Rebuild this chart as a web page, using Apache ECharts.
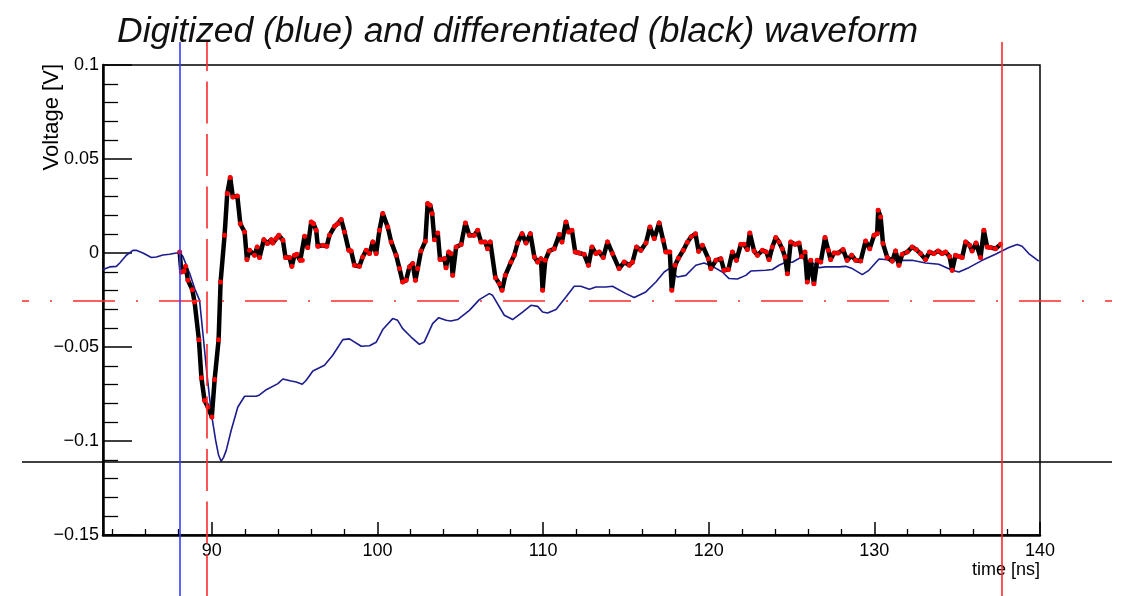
<!DOCTYPE html>
<html>
<head>
<meta charset="utf-8">
<script src="https://cdn.jsdelivr.net/npm/echarts@6/dist/echarts.min.js"></script>
<style>
  html, body { margin: 0; padding: 0; background: #fff; }
  #chart { width: 1121px; height: 596px; }
</style>
</head>
<body>
<div id="chart"></div>
<script>
// Digitized (blue) and differentiated (black) waveform, ROOT-style canvas

// ── data ─────────────────────────────────────────────────────────────
// digitized waveform (blue), time [ns] / voltage [V]
const blueTime = [83.43,83.83,84.24,84.44,84.84,85.24,85.44,85.84,86.35,86.65,
  87.05,87.45,87.86,88.06,88.25,88.66,88.96,89.26,89.46,89.70,
  89.97,90.23,90.41,90.56,90.71,90.87,91.17,91.57,91.98,92.68,
  92.88,93.29,93.99,94.29,94.79,95.10,95.46,95.70,96.10,96.80,
  97.30,97.91,98.31,99.02,99.52,99.92,100.32,100.92,101.22,101.52,
  102.03,102.53,102.83,103.33,103.70,104.14,104.44,104.84,105.55,106.15,
  106.75,106.95,107.66,108.16,108.76,109.27,109.67,109.97,110.27,110.78,
  111.38,111.88,112.28,112.79,113.19,113.79,114.19,115.00,115.50,116.20,
  116.81,117.31,117.61,118.11,118.62,119.22,119.72,120.22,120.82,121.23,
  121.73,122.24,122.54,123.44,123.84,124.24,124.65,125.05,125.55,126.25,
  126.66,127.06,127.86,128.27,128.67,129.27,129.67,130.28,131.28,132.28,
  133.09,133.89,134.70,135.10,135.70,136.51,137.31,138.12,138.62,138.92,
  139.32,139.93];
const blueVolt = [-0.0088,-0.0074,-0.0071,-0.0053,-0.0012,0.0014,0.0014,0,-0.0024,-0.0021,
  -0.0011,-0.0007,0,0,-0.0018,-0.0108,-0.0188,-0.0252,-0.0427,-0.0640,
  -0.0853,-0.0996,-0.1076,-0.1108,-0.1087,-0.1050,-0.0943,-0.0819,-0.0762,-0.0762,
  -0.0755,-0.0727,-0.0695,-0.0670,-0.0681,-0.0686,-0.0698,-0.0677,-0.0628,-0.0597,
  -0.0544,-0.0461,-0.0457,-0.0496,-0.0493,-0.0475,-0.0407,-0.0349,-0.0358,-0.0402,
  -0.0447,-0.0486,-0.0473,-0.0376,-0.0344,-0.0358,-0.0362,-0.0354,-0.0305,-0.0248,
  -0.0216,-0.0225,-0.0331,-0.0354,-0.0314,-0.0278,-0.0284,-0.0314,-0.0319,-0.0301,
  -0.0234,-0.0177,-0.0177,-0.0193,-0.0181,-0.0181,-0.0177,-0.0216,-0.0237,-0.0207,
  -0.0154,-0.0101,-0.0083,-0.0128,-0.0119,-0.0065,-0.0053,-0.0071,-0.0101,-0.0136,
  -0.0138,-0.0119,-0.0096,-0.0092,-0.0088,-0.0065,-0.0049,-0.0049,-0.0024,-0.0053,
  -0.0078,-0.0074,-0.0074,-0.0071,-0.0083,-0.0115,-0.0092,-0.0032,-0.0039,-0.0039,
  -0.0053,-0.0060,-0.0092,-0.0101,-0.0078,-0.0039,-0.0007,0.0029,0.0045,0.0036,
  -0.0003,-0.0043];

// differentiated waveform (black line, red sample dots)
const diffTime = [88.06,88.16,88.32,88.42,88.56,88.82,88.96,89.22,89.37,89.56,
  89.76,90.00,90.17,90.41,90.53,90.77,90.93,91.11,91.27,91.54,
  91.72,91.98,92.12,92.28,92.58,92.74,92.88,93.14,93.35,93.59,
  93.68,93.89,94.05,94.29,94.45,94.69,94.83,94.99,95.13,95.34,
  95.46,95.60,95.79,96.00,96.14,96.30,96.40,96.70,96.94,97.10,
  97.41,97.60,97.81,98.01,98.27,98.41,98.61,98.91,99.11,99.32,
  99.52,99.72,99.92,100.12,100.32,100.62,100.83,101.13,
  101.33,101.52,101.73,101.93,102.13,102.29,102.43,102.63,102.89,103.03,
  103.18,103.30,103.44,103.64,103.78,104.04,104.14,104.30,104.44,104.54,
  104.75,105.05,105.31,105.55,105.85,106.05,106.25,106.51,106.65,106.81,
  107.12,107.36,107.52,107.72,108.06,108.26,108.46,108.73,108.97,109.23,
  109.47,109.67,109.87,109.97,110.13,110.37,110.67,110.98,111.14,111.38,
  111.54,111.74,111.94,112.18,112.48,112.74,112.95,113.19,113.39,113.63,
  113.89,114.19,114.59,114.90,115.20,115.40,115.64,115.90,116.21,116.45,
  116.71,117.01,117.25,117.41,117.65,117.77,117.97,118.17,
  118.46,118.71,118.94,119.20,119.39,119.62,119.98,120.13,120.43,120.73,
  120.93,121.19,121.43,121.67,121.94,122.13,122.33,122.48,122.74,122.94,
  123.24,123.48,123.64,123.84,124.05,124.24,124.44,124.61,124.75,124.95,
  125.21,125.45,125.61,125.81,125.95,126.16,126.35,126.55,126.76,127.02,
  127.22,127.36,127.56,127.82,128.11,128.36,128.63,128.87,129.17,129.47,
  129.72,129.98,130.17,130.23,130.38,130.52,130.78,131.08,131.28,131.48,
  131.68,131.98,132.28,132.53,132.79,133.09,133.33,133.59,133.85,134.09,
  134.30,134.54,134.70,134.90,135.10,135.30,135.51,135.75,135.90,136.14,
  136.41,136.61,136.81,137.01,137.31,137.62];
const diffVolt = [0.0005,-0.0101,-0.0096,-0.0071,-0.0145,-0.0195,-0.0261,-0.0461,-0.0663,-0.0784,
  -0.0819,-0.0872,-0.0673,-0.0461,-0.0154,0.0094,0.0316,0.0401,0.0298,0.0303,
  0.0156,0.0112,-0.0035,0.0014,-0.0012,0.0032,-0.0024,0.0071,0.0050,0.0071,
  0.0053,0.0077,0.0094,0.0068,-0.0024,-0.0024,-0.0071,-0.0012,-0.0007,-0.0039,
  -0.0039,0.0089,0.0029,0.0165,0.0156,0.0121,0.0036,0.0041,0.0036,0.0094,
  0.0142,0.0156,0.0178,0.0112,0.0014,0.0011,-0.0065,-0.0071,-0.0021,0.0014,
  -0.0003,0.0059,-0.0003,0.0121,0.0210,0.0138,0.0059,-0.0012,
  -0.0083,-0.0154,-0.0145,-0.0074,-0.0056,-0.0145,-0.0083,0.0011,0.0062,0.0263,
  0.0254,0.0210,0.0071,0.0106,-0.0035,-0.0030,-0.0078,0.0005,-0.0003,-0.0119,
  0.0032,0.0045,0.0160,0.0094,0.0094,0.0121,0.0059,0.0059,0.0023,0.0059,
  -0.0131,-0.0163,-0.0198,-0.0119,-0.0048,-0.0012,0.0053,0.0103,0.0053,0.0103,
  -0.0021,-0.0048,-0.0030,-0.0198,-0.0039,0.0011,0.0023,0.0099,0.0059,0.0165,
  0.0112,0.0121,0.0005,0,-0.0007,-0.0065,0.0032,-0.0003,0.0005,-0.0024,
  0.0059,-0.0003,-0.0083,-0.0048,-0.0065,-0.0048,0.0032,0.0014,0.0053,0.0138,
  0.0077,0.0160,0.0068,0.0005,0.0005,-0.0198,-0.0065,-0.0028,
  0.0014,0.0057,0.0086,0.0102,0.0009,0.0041,-0.0030,-0.0083,-0.0039,-0.0030,
  -0.0092,-0.0088,0.0005,-0.0039,0.0046,0.0046,0.0018,0.0106,0.0011,-0.0012,
  0.0014,0.0005,-0.0035,0.0032,0.0082,0.0059,0.0023,-0.0021,-0.0110,0.0059,
  0.0046,0.0053,-0.0018,0.0005,-0.0154,-0.0039,-0.0163,-0.0039,-0.0048,0.0082,
  0.0014,-0.0035,0,0,0.0018,-0.0039,-0.0012,-0.0039,-0.0043,0.0064,
  0.0023,0.0094,0.0103,0.0227,0.0191,0.0050,-0.0024,-0.0043,0.0011,-0.0065,
  -0.0007,0.0005,0.0032,0.0018,-0.0003,-0.0035,0.0005,-0.0003,0.0011,-0.0003,
  0.0005,-0.0018,-0.0092,-0.0012,-0.0018,-0.0024,0.0059,0.0041,0.0011,0.0053,
  -0.0024,0.0121,0.0032,0.0029,0.0023,0.0046];

// marker lines
const startTime   = 88.06;   // blue vertical
const peakTime    = 89.70;   // red dashed vertical
const endTime     = 137.68;  // red solid vertical
const minLevel    = -0.1108; // black horizontal
const threshLevel = -0.0252; // red dash-dot horizontal

// axes / ticks
const timeRange   = [83.43, 140];
const voltRange   = [-0.15, 0.1];
const timeMajor   = [90, 100, 110, 120, 130, 140];
const timeMinor   = [84, 86, 88, 92, 94, 96, 98, 102, 104, 106, 108, 112, 114, 116, 118,
                     122, 124, 126, 128, 132, 134, 136, 138];

// ── chart ────────────────────────────────────────────────────────────
const chart = echarts.init(document.getElementById('chart'));
const FONT = '"Liberation Sans", Helvetica, Arial, sans-serif';
const red = '#ff2a2a';

const blueData = blueTime.map((t, i) => [t, blueVolt[i]]);
const diffData = diffTime.map((t, i) => [t, diffVolt[i]]);

const hidden = { show: false };
const lbl = { color: '#000', fontFamily: FONT, fontSize: 18 };

chart.setOption({
  animation: false,
  backgroundColor: '#fff',
  title: {
    text: 'Digitized (blue) and differentiated (black) waveform',
    left: 112, top: 9,
    textStyle: { fontFamily: FONT, fontStyle: 'italic', fontWeight: 'normal', fontSize: 35.5, color: '#111' },
  },
  grid: [
    { left: 103, right: 81, top: 65, bottom: 61, show: true, borderColor: '#000', borderWidth: 1.5 },
    { left: 22, right: 9, top: 65, bottom: 61 },   // horizontal markers run past the frame
    { left: 103, right: 81, top: 42, bottom: 0 },  // vertical markers run past the frame
  ],
  xAxis: [
    {
      type: 'value', gridIndex: 0, position: 'bottom', min: timeRange[0], max: timeRange[1],
      name: 'time [ns]', nameLocation: 'end', nameGap: 0, nameMoveOverlap: false,
      nameTextStyle: { ...lbl, align: 'right', verticalAlign: 'top', padding: [26, 0, 0, 0] },
      axisLine: { onZero: false, lineStyle: { color: '#000', width: 2.5 } },
      axisTick: { inside: true, length: 13, customValues: timeMajor, lineStyle: { color: '#000', width: 1.5 } },
      axisLabel: { ...lbl, margin: 7, customValues: timeMajor },
      splitLine: { show: false },
    },
    {
      type: 'value', gridIndex: 0, position: 'bottom', min: timeRange[0], max: timeRange[1],
      axisLine: { show: false, onZero: false },
      axisTick: { inside: true, length: 6, customValues: timeMinor, lineStyle: { color: '#000', width: 1.3 } },
      axisLabel: { show: false }, splitLine: { show: false },
    },
    { type: 'value', gridIndex: 1, min: 0, max: 1, ...hidden },
    { type: 'value', gridIndex: 2, min: timeRange[0], max: timeRange[1], ...hidden },
  ],
  yAxis: [
    {
      type: 'value', gridIndex: 0, min: voltRange[0], max: voltRange[1], interval: 0.05,
      name: 'Voltage [V]', nameLocation: 'end', nameGap: 1, nameRotate: 90, nameMoveOverlap: false,
      nameTextStyle: { ...lbl, fontSize: 22, align: 'right', verticalAlign: 'bottom', padding: [0, 0, 40, 0] },
      axisLine: { onZero: false, lineStyle: { color: '#000', width: 2.5 } },
      axisTick: { inside: true, length: 29, lineStyle: { color: '#000', width: 1.5 } },
      minorTick: { show: true, splitNumber: 5, length: 15, lineStyle: { color: '#000', width: 1.3 } },
      axisLabel: {
        ...lbl, margin: 4,
        formatter: v => String(+v.toFixed(2)).replace('-', '\u2212'),
      },
      splitLine: { show: false }, minorSplitLine: { show: false },
    },
    { type: 'value', gridIndex: 1, min: voltRange[0], max: voltRange[1], ...hidden },
    { type: 'value', gridIndex: 2, min: 0, max: 1, ...hidden },
  ],
  series: [
    {
      name: 'digitized', type: 'line', xAxisIndex: 0, yAxisIndex: 0, data: blueData,
      showSymbol: false, z: 2,
      lineStyle: { color: '#1c1c8e', width: 1.6 },
    },
    {
      name: 'differentiated', type: 'line', xAxisIndex: 0, yAxisIndex: 0, data: diffData,
      symbol: 'circle', symbolSize: 5, z: 3,
      itemStyle: { color: '#ff0000', borderWidth: 0 },
      lineStyle: { color: '#000', width: 4.5, join: 'round' },
    },
    {
      name: 'levels', type: 'line', xAxisIndex: 2, yAxisIndex: 1, data: [], z: 5,
      markLine: {
        silent: true, symbol: 'none', label: { show: false }, animation: false, precision: 5,
        data: [
          { yAxis: minLevel, lineStyle: { color: '#000', width: 1.5, type: 'solid' } },
          { yAxis: threshLevel, lineStyle: { color: red, width: 1.6, type: [42, 21, 2, 21], dashOffset: 35 } },
        ],
      },
    },
    {
      name: 'times', type: 'line', xAxisIndex: 3, yAxisIndex: 2, data: [], z: 5,
      markLine: {
        silent: true, symbol: 'none', label: { show: false }, animation: false, precision: 5,
        data: [
          { xAxis: startTime, lineStyle: { color: '#3a3aff', width: 1.6, type: 'solid' } },
          { xAxis: peakTime, lineStyle: { color: red, width: 1.6, type: [42, 10.5] } },
          { xAxis: endTime, lineStyle: { color: red, width: 1.6, type: 'solid' } },
        ],
      },
    },
  ],
});
</script>
</body>
</html>
